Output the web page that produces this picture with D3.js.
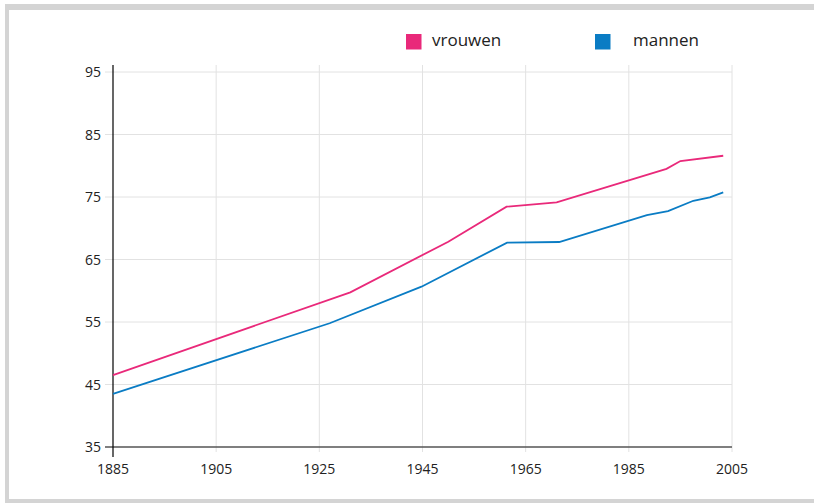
<!DOCTYPE html>
<html><head><meta charset="utf-8">
<script src="https://cdn.jsdelivr.net/npm/d3@7"></script>
<style>body{margin:0;background:#fff}svg{display:block}</style>
</head><body><svg id="c" width="814" height="503"></svg>
<script>
const xTicks = [1885, 1905, 1925, 1945, 1965, 1985, 2005];
const yTicks = [35, 45, 55, 65, 75, 85, 95];
const seriesNames = ["vrouwen", "mannen"];
const seriesColors = ["#e9297a", "#0a7cc4"];
const vrouwenYears = [1885, 1931, 1950, 1961.3, 1971, 1992.3, 1995, 2003.3];
const vrouwenValues = [46.5, 59.75, 67.85, 73.45, 74.15, 79.5, 80.75, 81.6];
const mannenYears = [1885, 1927, 1944.8, 1961.4, 1971.5, 1988.5, 1992.6, 1997.5, 2000.7, 2003.3];
const mannenValues = [43.5, 54.8, 60.65, 67.7, 67.8, 72.1, 72.75, 74.4, 74.95, 75.75];

const svg = d3.select("#c");
const font = "'Open Sans', sans-serif";

// frame
svg.append("rect").attr("x",5).attr("y",4).attr("width",815).attr("height",6).attr("fill","#d4d4d4");
svg.append("rect").attr("x",5).attr("y",4).attr("width",4).attr("height",499).attr("fill","#d4d4d4");
svg.append("rect").attr("x",5).attr("y",499).attr("width",815).attr("height",4).attr("fill","#d4d4d4");

const x = d3.scaleLinear().domain([1885, 2005]).range([113, 732]);
const y = d3.scaleLinear().domain([35, 95]).range([447, 72]);

// grid
const g = svg.append("g");
g.selectAll(".vg").data(xTicks.slice(1)).join("line")
  .attr("x1", d=>x(d)).attr("x2", d=>x(d)).attr("y1", 65).attr("y2", 452)
  .attr("stroke", "#e2e2e2").attr("stroke-width", 1);
g.selectAll(".hg").data(yTicks.slice(1)).join("line")
  .attr("x1", 105).attr("x2", 732).attr("y1", d=>y(d)).attr("y2", d=>y(d))
  .attr("stroke", "#e2e2e2").attr("stroke-width", 1);

// x axis line
svg.append("line").attr("x1",105).attr("x2",732).attr("y1",y(35)).attr("y2",y(35))
  .attr("stroke","#555").attr("stroke-width",1.3);
// y axis line
svg.append("line").attr("x1",113).attr("x2",113).attr("y1",65).attr("y2",457)
  .attr("stroke","#000").attr("stroke-width",1.2);

// tick labels
svg.selectAll(".yl").data(yTicks).join("text")
  .attr("x", 101).attr("y", d=>y(d)+5).attr("text-anchor","end")
  .attr("font-family", font).attr("font-size", 14).attr("fill","#222").text(d=>d);
svg.selectAll(".xl").data(xTicks).join("text")
  .attr("x", d=>x(d)).attr("y", 474).attr("text-anchor","middle")
  .attr("font-family", font).attr("font-size", 14).attr("fill","#222").text(d=>d);

// lines
const line = d3.line().x(d=>x(d[0])).y(d=>y(d[1]));
const data = [d3.zip(vrouwenYears, vrouwenValues), d3.zip(mannenYears, mannenValues)];
svg.selectAll(".ln").data(data).join("path")
  .attr("d", line).attr("fill","none")
  .attr("stroke", (d,i)=>seriesColors[i]).attr("stroke-width", 1.8);

// legend
const legX = [406, 595], txtX = [432, 633];
seriesNames.forEach((n,i)=>{
  svg.append("rect").attr("x",legX[i]).attr("y",34).attr("width",15.5).attr("height",15.5).attr("fill",seriesColors[i]);
  svg.append("text").attr("x",txtX[i]).attr("y",46).attr("font-family",font).attr("font-size",17)
    .attr("fill","#222").text(n);
});
</script></body></html>
